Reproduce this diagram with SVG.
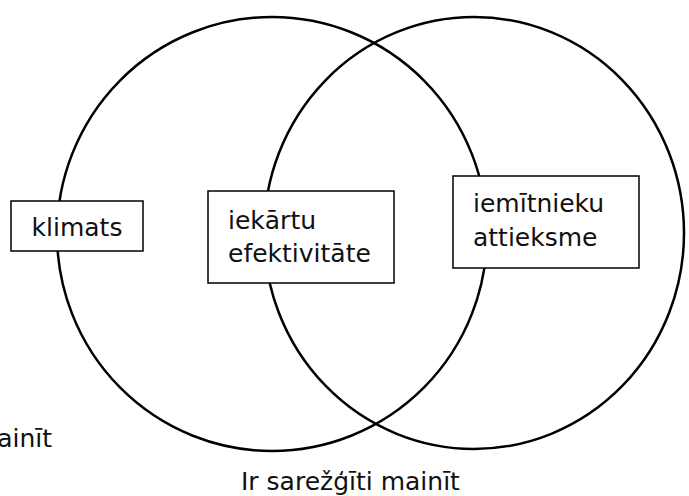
<svg xmlns="http://www.w3.org/2000/svg" width="689" height="496" viewBox="0 0 689 496">
<style>
.c{fill:none;stroke:#000;stroke-width:2.5}
.b{fill:#fff;stroke:#000;stroke-width:1.5}
.t{font-family:"DejaVu Sans","Liberation Sans",sans-serif;font-size:25px;fill:#111}
</style>
<rect width="689" height="496" fill="#fff"/>
<g id="circles">
<ellipse id="left-circle" class="c" cx="272" cy="234" rx="215" ry="217"/>
<ellipse id="right-circle" class="c" cx="474" cy="233" rx="210" ry="216"/>
</g>
<g id="connectors"></g>
<g id="klimats">
<rect class="b" x="11" y="201" width="132" height="50"/>
<text class="t" x="77" y="236" text-anchor="middle">klimats</text>
</g>
<g id="iekartu">
<rect class="b" x="208" y="191" width="186" height="92"/>
<text class="t" x="228" y="229">iekārtu</text>
<text class="t" x="228" y="262">efektivitāte</text>
</g>
<g id="iemitnieku">
<rect class="b" x="453" y="176" width="186" height="92"/>
<text class="t" x="473" y="212">iemītnieku</text>
<text class="t" x="473" y="246">attieksme</text>
</g>
<g id="labels">
<text class="t" x="52" y="447" text-anchor="end">mainīt</text>
<text class="t" x="241" y="490">Ir sarežģīti mainīt</text>
</g>
</svg>
